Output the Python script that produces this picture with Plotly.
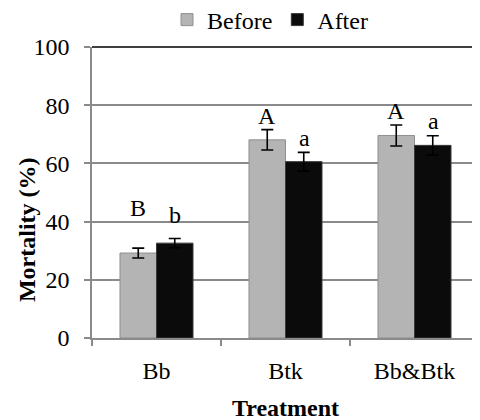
import plotly.graph_objects as go

categories = ["Bb", "Btk", "Bb&Btk"]
before_vals = [29.2, 68.1, 69.6]
before_err = [1.7, 3.5, 3.6]
after_vals = [32.6, 60.6, 66.2]
after_err = [1.6, 3.2, 3.3]
before_letters = ["B", "A", "A"]
after_letters = ["b", "a", "a"]
before_letter_y = [44.7, 76.4, 78.1]
after_letter_y = [42.3, 68.8, 74.6]
y_ticks = [0, 20, 40, 60, 80, 100]

FONT = "Liberation Serif, Times New Roman, serif"
GRID = "#8a8a8a"
FS = 24

fig = go.Figure()
fig.add_trace(go.Bar(
    name="Before", x=categories, y=before_vals,
    marker=dict(color="#b4b4b4", line=dict(color="#8f8f8f", width=1)),
    error_y=dict(type="data", array=before_err, color="black", thickness=1.6, width=6),
))
fig.add_trace(go.Bar(
    name="After", x=categories, y=after_vals,
    marker=dict(color="#0b0b0b", line=dict(color="#3a3a3a", width=1)),
    error_y=dict(type="data", array=after_err, color="black", thickness=1.6, width=6),
))

annotations = []
for c, t, yv in zip(categories, before_letters, before_letter_y):
    annotations.append(dict(x=c, y=yv, text=t, xref="x", yref="y", showarrow=False,
                            xshift=-18.5, yanchor="middle", font=dict(family=FONT, size=FS, color="black")))
for c, t, yv in zip(categories, after_letters, after_letter_y):
    annotations.append(dict(x=c, y=yv, text=t, xref="x", yref="y", showarrow=False,
                            xshift=18.5, yanchor="middle", font=dict(family=FONT, size=FS, color="black")))
annotations.append(dict(x=0.5, y=0, xref="paper", yref="paper", yshift=-70, text="<b>Treatment</b>",
                        showarrow=False, yanchor="middle", font=dict(family=FONT, size=FS, color="black")))
annotations.append(dict(x=0, y=0.371, xref="paper", yref="paper", xshift=-65, text="<b>Mortality (%)</b>",
                        textangle=-90, showarrow=False, xanchor="center", yanchor="middle",
                        font=dict(family=FONT, size=FS, color="black")))

fig.update_layout(
    width=472, height=412,
    margin=dict(l=84, r=1, t=39, b=82, autoexpand=False),
    paper_bgcolor="white", plot_bgcolor="white",
    barmode="group", bargap=0.434, bargroupgap=0,
    font=dict(family=FONT, size=FS, color="black"),
    showlegend=True,
    legend=dict(orientation="h", xref="container", yref="container",
                x=262 / 472, xanchor="center", y=1 - 12 / 412, yanchor="middle",
                font=dict(family=FONT, size=FS), itemwidth=30, bgcolor="rgba(0,0,0,0)",
                tracegroupgap=0),
    annotations=annotations,
    shapes=[
        dict(type="line", xref="paper", yref="paper", x0=0, x1=1, y0=1, y1=1,
             line=dict(color="black", width=1.5)),
        dict(type="line", xref="paper", yref="paper", x0=1, x1=1, y0=0, y1=1,
             line=dict(color="black", width=1.5)),
    ],
)
fig.update_xaxes(
    showgrid=False, showline=True, linecolor=GRID, linewidth=1.5,
    ticks="outside", tickson="boundaries", ticklen=6, tickcolor=GRID, tickwidth=1.5,
    tickfont=dict(family=FONT, size=FS), ticklabelstandoff=10,
)
fig.update_yaxes(
    range=[0, 100], tickvals=y_ticks, showgrid=True, gridcolor=GRID, gridwidth=1.5,
    showline=True, linecolor=GRID, linewidth=1.5, zeroline=False,
    ticks="outside", ticklen=6, tickcolor=GRID, tickwidth=1.5,
    tickfont=dict(family=FONT, size=FS), ticklabelstandoff=10,
)

fig.write_html("out.html")
